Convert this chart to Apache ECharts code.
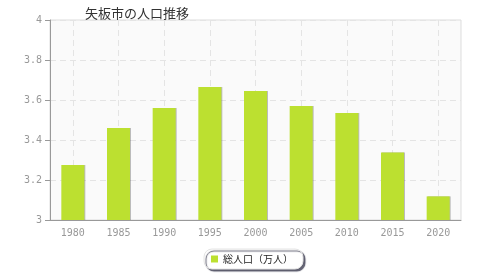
<!DOCTYPE html>
<html><head><meta charset="utf-8">
<script src="https://cdn.jsdelivr.net/npm/echarts@6/dist/echarts.min.js"></script>
<style>html,body{margin:0;padding:0;background:#fff}#c{width:480px;height:280px}</style>
</head><body><div id="c"></div>
<script>
const title = '矢板市の人口推移';
const seriesName = '総人口（万人）';
const categories = ['1980','1985','1990','1995','2000','2005','2010','2015','2020'];
const population = [3.275, 3.46, 3.56, 3.665, 3.645, 3.57, 3.535, 3.337, 3.118];
const yTicks = [3, 3.2, 3.4, 3.6, 3.8, 4];

const chart = echarts.init(document.getElementById('c'), null, {renderer: 'canvas'});
chart.setOption({
  animation: false,
  backgroundColor: '#fff',
  title: {
    text: title, left: 80, top: 2,
    textStyle: {fontSize: 13, fontWeight: 'normal', color: '#333', fontFamily: 'Noto Sans CJK JP'}
  },
  grid: {left: 50, right: 19, top: 20, bottom: 60, show: true, backgroundColor: '#fafafa', borderColor: '#ddd', borderWidth: 1},
  legend: {
    data: [seriesName], left: 204, top: 249,
    itemWidth: 7, itemHeight: 7, itemGap: 5, icon: 'rect',
    padding: [5, 10, 5, 7],
    backgroundColor: '#fff', borderColor: '#e4e4e4', borderWidth: 1, borderRadius: 8,
    shadowColor: 'rgba(60,60,80,0.8)', shadowBlur: 1, shadowOffsetX: 2, shadowOffsetY: 2,
    textStyle: {fontSize: 10, color: '#222', fontFamily: 'Noto Sans CJK JP'}
  },
  xAxis: {
    type: 'category', data: categories,
    axisLine: {lineStyle: {color: '#999', width: 1}},
    axisTick: {show: false},
    axisLabel: {color: '#999', fontSize: 10, fontFamily: 'DejaVu Sans Mono', margin: 8},
    splitLine: {show: true, alignWithLabel: true, lineStyle: {color: '#e4e4e4', type: [6, 4]}}
  },
  yAxis: {
    type: 'value', min: yTicks[0], max: yTicks[yTicks.length - 1], interval: 0.2,
    axisLine: {show: true, lineStyle: {color: '#999', width: 1}},
    axisTick: {show: true, inside: false, length: 5, lineStyle: {color: '#999'}},
    axisLabel: {color: '#999', fontSize: 10, fontFamily: 'DejaVu Sans Mono', margin: 8,
      formatter: v => String(Math.round(v * 10) / 10)},
    splitLine: {show: true, lineStyle: {color: '#e4e4e4', type: [6, 4]}}
  },
  series: [{
    name: seriesName, type: 'bar', data: population, barWidth: 23,
    itemStyle: {color: '#bce030', shadowColor: 'rgba(0,0,0,0.25)', shadowOffsetX: 1, shadowOffsetY: 0, shadowBlur: 0}
  }]
});
</script></body></html>
